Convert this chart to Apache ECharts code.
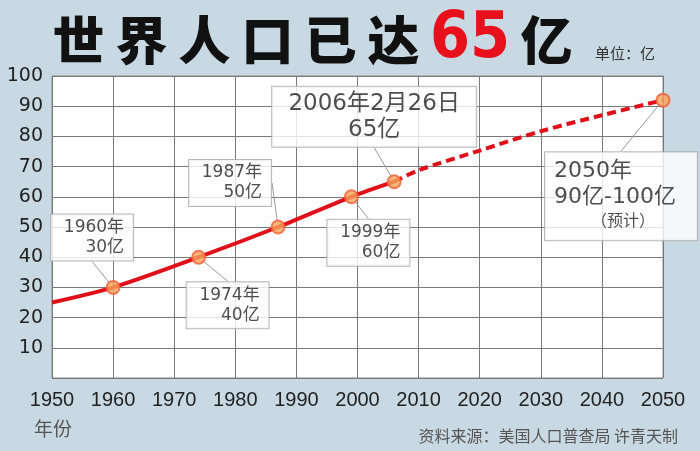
<!DOCTYPE html>
<html>
<head>
<meta charset="utf-8">
<script src="https://cdn.jsdelivr.net/npm/echarts@6/dist/echarts.min.js"></script>
<style>
html,body{margin:0;padding:0;background:#c8d9e3;}
#chart{width:700px;height:451px;}
</style>
</head>
<body>
<div id="chart"></div>
<script>
// ---- data ----
var histYears = [1950, 1960, 1974, 1987, 1999, 2006];
var histPop   = [25, 30, 40, 50, 60, 65];
var projYears = [2006, 2010, 2020, 2030, 2040, 2050];
var projPop   = [65, 68.8, 75.3, 81.7, 87, 92];
var keyYears  = [1960, 1974, 1987, 1999, 2006, 2050];
var keyPop    = [30, 40, 50, 60, 65, 92];
var keyTop    = ['1960年', '1974年', '1987年', '1999年', '2006年2月26日', '2050年'];
var keyBottom = ['30亿', '40亿', '50亿', '60亿', '65亿', '90亿-100亿'];
var keyNote   = ['', '', '', '', '', '（预计）'];
var xTicks = [1950, 1960, 1970, 1980, 1990, 2000, 2010, 2020, 2030, 2040, 2050];
var yTicks = [10, 20, 30, 40, 50, 60, 70, 80, 90, 100];
var titleChars = ['世', '界', '人', '口', '已', '达'];
var titleNum = '65';
var titleUnit = '亿';

// ---- label layout (offsets from point, box sizes) ----
var labelDx = [-21, 29, -48, 17, -20, -42];
var labelDy = [-50, 48, -44, 46, -65, 96];
var labelW  = [68, 68, 68, 68, 188, 138];
var labelPad = [[3, 9, 3, 5], [3, 9, 3, 5], [3, 9, 3, 5], [3, 9, 3, 5], [4, 8, 4, 8], [6, 5, 6, 9]];

var CJK = '"DejaVu Sans", "Noto Sans CJK SC", sans-serif';

var chart = echarts.init(document.getElementById('chart'));

var titleText = titleChars.map(function (c) { return '{c|' + c + '}'; }).join('') +
  '{r|' + titleNum + '}{c|' + titleUnit + '}';

var keyData = keyYears.map(function (y, i) {
  return {
    value: [y, keyPop[i]],
    label: { width: labelW[i], padding: labelPad[i] }
  };
});

var option = {
  backgroundColor: '#c8d9e3',
  animation: false,
  title: [
    {
      text: titleText,
      left: 42, top: 5,
      textStyle: {
        rich: {
          c: { fontSize: 52, fontWeight: 900, color: '#111', width: 63, align: 'center', lineHeight: 60,
               fontFamily: '"Noto Sans CJK SC", sans-serif' },
          r: { fontSize: 64, fontWeight: 'bold', color: '#e8101a', width: 90, align: 'center', lineHeight: 60,
               fontFamily: '"Liberation Sans Narrow", "DejaVu Sans Condensed", "Liberation Sans", sans-serif' }
        }
      }
    },
    {
      text: '单位：亿',
      left: 590, top: 41,
      textStyle: { fontSize: 15, fontWeight: 'normal', color: '#333', fontFamily: '"Noto Sans CJK SC", sans-serif' }
    },
    {
      text: '年份',
      left: 29, top: 414,
      textStyle: { fontSize: 19, fontWeight: 'normal', color: '#555', fontFamily: '"Noto Sans CJK SC", sans-serif' }
    },
    {
      text: '资料来源：美国人口普查局 许青天制',
      right: 17, top: 423,
      textStyle: { fontSize: 16, fontWeight: 'normal', color: '#555', fontFamily: '"Noto Sans CJK SC", sans-serif' }
    }
  ],
  grid: {
    left: 52, right: 37, top: 76, bottom: 73,
    show: true, backgroundColor: '#ffffff', borderColor: '#8a8a8a', borderWidth: 1
  },
  xAxis: {
    type: 'value', min: xTicks[0], max: xTicks[xTicks.length - 1], interval: 10,
    axisLine: { show: false }, axisTick: { show: false },
    splitLine: { show: true, lineStyle: { color: '#7a7a7a', width: 1 } },
    axisLabel: {
      margin: 12, fontSize: 20, color: '#222',
      fontFamily: '"Liberation Sans", Arial, sans-serif',
      formatter: function (v) { return xTicks.indexOf(v) >= 0 ? String(v) : ''; }
    }
  },
  yAxis: {
    type: 'value', min: 0, max: yTicks[yTicks.length - 1], interval: 10,
    axisLine: { show: false }, axisTick: { show: false },
    splitLine: { show: true, lineStyle: { color: '#7a7a7a', width: 1 } },
    axisLabel: {
      margin: 9, fontSize: 19, color: '#222',
      fontFamily: '"DejaVu Sans", sans-serif',
      formatter: function (v) { return yTicks.indexOf(v) >= 0 ? String(v) : ''; }
    }
  },
  series: [
    {
      type: 'line', smooth: 0.3, showSymbol: false, z: 3,
      data: histYears.map(function (y, i) { return [y, histPop[i]]; }),
      lineStyle: { color: '#e0101a', width: 4 }
    },
    {
      type: 'line', smooth: 0.3, showSymbol: false, z: 3,
      data: projYears.map(function (y, i) { return [y, projPop[i]]; }),
      lineStyle: { color: '#e0101a', width: 4, type: [9, 5] }
    },
    {
      type: 'scatter', z: 5,
      symbolSize: 13,
      itemStyle: { color: '#f7a35a', borderColor: '#f0603a', borderWidth: 2 },
      data: keyData,
      label: {
        show: true, position: 'inside',
        backgroundColor: '#ffffff', borderColor: '#a8a8a8', borderWidth: 1,
        color: '#222',
        formatter: function (p) {
          var i = p.dataIndex;
          if (i < 4) return '{s|' + keyTop[i] + '}\n{s|' + keyBottom[i] + '}';
          if (i === 4) return '{b|' + keyTop[i] + '}\n{b|' + keyBottom[i] + '}';
          return '{l|' + keyTop[i] + '}\n{l|' + keyBottom[i] + '}\n{n|' + keyNote[i] + '}';
        },
        rich: {
          s: { fontSize: 17, lineHeight: 20, align: 'right', color: '#222', fontFamily: CJK },
          b: { fontSize: 23, lineHeight: 26, align: 'center', color: '#222', fontFamily: CJK },
          l: { fontSize: 22, lineHeight: 26, align: 'left', color: '#222', fontFamily: CJK },
          n: { fontSize: 16, lineHeight: 24, align: 'center', color: '#222', fontFamily: CJK }
        }
      },
      labelLine: { show: true, lineStyle: { color: '#999', width: 1 } },
      labelLayout: function (params) {
        return { dx: labelDx[params.dataIndex], dy: labelDy[params.dataIndex] };
      }
    }
  ]
};

chart.setOption(option);
</script>
</body>
</html>
